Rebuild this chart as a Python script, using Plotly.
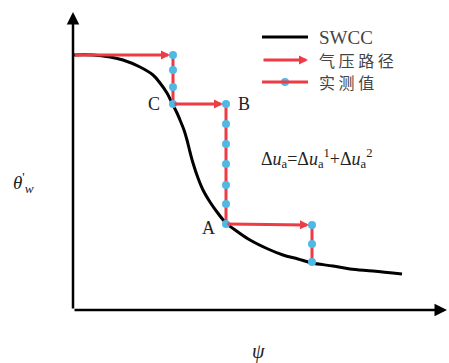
import plotly.graph_objects as go

# SWCC curve (arbitrary units: psi, theta'_w)
curve_psi = [0, 20, 37, 50, 67, 80, 87, 94, 99, 104, 107, 111, 114, 117, 120, 125, 130, 137, 144, 153, 165, 177, 195, 210, 225, 239, 260, 277, 300, 329]
curve_theta = [255, 255, 253, 250, 243, 235, 227, 217, 207, 197, 190, 180, 170, 158, 147, 132, 120, 108, 98, 87, 78, 70, 61, 55, 51, 47, 44, 41, 39, 36]

# Air-pressure path (horizontal arrows): tail -> head
arrow_tail_psi = [0, 100, 153]
arrow_tail_theta = [255, 206, 86]
arrow_head_psi = [100, 153, 239]
arrow_head_theta = [255, 206, 85]

# Measured values (vertical drops)
meas_groups = [
    ([100, 100, 100, 100], [255, 240, 223, 206]),
    ([153] * 7, [206, 186, 166, 146, 125, 106, 86]),
    ([239, 239, 239], [85, 66, 48]),
]

point_labels = ["C", "B", "A"]
label_psi = [81, 171, 135]
label_theta = [206, 206, 82]

X_MAX, Y_MAX = 374, 298

RED = "#ee3b44"
BLUE = "#4fb9e6"
SERIF = "Times New Roman, Liberation Serif, serif"
CJK = "Noto Sans CJK SC"

fig = go.Figure()

fig.add_trace(go.Scatter(x=curve_psi, y=curve_theta, mode="lines",
                         line=dict(color="black", width=3, shape="spline", smoothing=1.0),
                         showlegend=False, hoverinfo="skip"))

for xs, ys in meas_groups:
    fig.add_trace(go.Scatter(x=xs, y=ys, mode="lines+markers",
                             line=dict(color=RED, width=3),
                             marker=dict(color=BLUE, size=8),
                             showlegend=False, hoverinfo="skip"))

annotations = []
for tx, ty, hx, hy in zip(arrow_tail_psi, arrow_tail_theta, arrow_head_psi, arrow_head_theta):
    annotations.append(dict(x=hx, y=hy, ax=tx, ay=ty, xref="x", yref="y", axref="x", ayref="y",
                            showarrow=True, arrowhead=2, arrowsize=0.6, arrowwidth=3,
                            arrowcolor=RED, standoff=3, text=""))

# axes arrows
annotations.append(dict(x=X_MAX, y=0, ax=0, ay=0, xref="x", yref="y", axref="x", ayref="y",
                        showarrow=True, arrowhead=2, arrowsize=1.0, arrowwidth=2.5,
                        arrowcolor="black", text=""))
annotations.append(dict(x=0, y=Y_MAX, ax=0, ay=0, xref="x", yref="y", axref="x", ayref="y",
                        showarrow=True, arrowhead=2, arrowsize=1.0, arrowwidth=2.5,
                        arrowcolor="black", text=""))

for t, x, y in zip(point_labels, label_psi, label_theta):
    annotations.append(dict(x=x, y=y, xref="x", yref="y", text=t, showarrow=False,
                            font=dict(family=SERIF, size=18, color="#222")))

annotations.append(dict(x=243, y=152, xref="x", yref="y", showarrow=False,
                        text="Δ<i>u</i><sub>a</sub>=Δ<i>u</i><sub>a</sub><sup>1</sup>+Δ<i>u</i><sub>a</sub><sup>2</sup>",
                        font=dict(family=SERIF, size=18, color="#222")))

annotations.append(dict(x=-62 / X_MAX, y=128 / Y_MAX, xref="paper", yref="paper", showarrow=False,
                        text="<i>θ</i><sup>'</sup><sub><i>w</i></sub>",
                        font=dict(family=SERIF, size=19, color="#222")))
annotations.append(dict(x=185 / X_MAX, y=-55 / Y_MAX, xref="paper", yref="paper", showarrow=False,
                        text="<i>ψ</i>", font=dict(family=SERIF, size=20, color="#222")))

# legend (custom)
leg_names = ["SWCC", "气 压 路 径", "实 测 值"]
leg_theta = [273, 250, 228]
leg_fonts = [SERIF, CJK, CJK]
leg_sizes = [19, 16, 16]
for name, y, f, s in zip(leg_names, leg_theta, leg_fonts, leg_sizes):
    annotations.append(dict(x=244, y=y, xref="x", yref="y", text=name, showarrow=False,
                            xanchor="left", font=dict(family=f, size=s, color="#444")))

shapes = [dict(type="line", x0=189, x1=235, y0=273, y1=273, xref="x", yref="y",
               line=dict(color="black", width=3)),
          dict(type="line", x0=189, x1=235, y0=228, y1=228, xref="x", yref="y",
               line=dict(color=RED, width=3))]
annotations.append(dict(x=235, y=250, ax=189, ay=250, xref="x", yref="y", axref="x", ayref="y",
                        showarrow=True, arrowhead=2, arrowsize=0.6, arrowwidth=3,
                        arrowcolor=RED, text=""))
fig.add_trace(go.Scatter(x=[212], y=[228], mode="markers", marker=dict(color=BLUE, size=8),
                         showlegend=False, hoverinfo="skip"))

fig.update_layout(
    width=449, height=363,
    margin=dict(l=73, r=2, t=12, b=53),
    paper_bgcolor="white", plot_bgcolor="white",
    xaxis=dict(range=[0, X_MAX], visible=False, fixedrange=True),
    yaxis=dict(range=[0, Y_MAX], visible=False, fixedrange=True),
    annotations=annotations, shapes=shapes, showlegend=False,
)

fig.write_html("out.html")
